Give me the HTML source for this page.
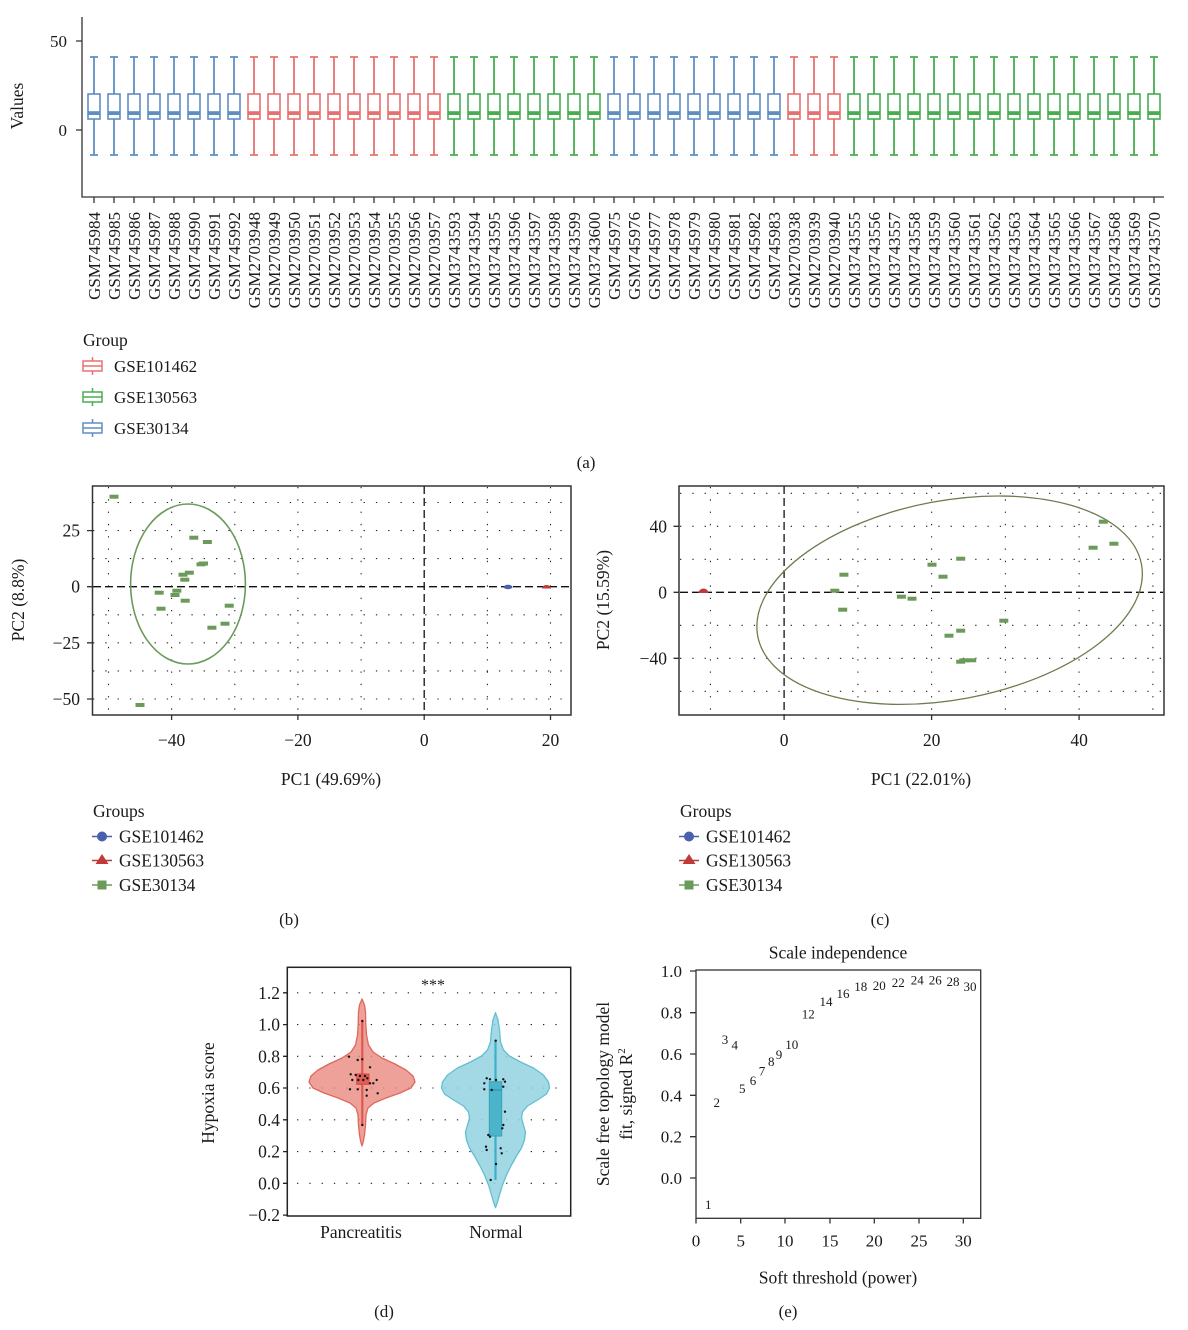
<!DOCTYPE html>
<html><head><meta charset="utf-8"><style>
html,body{margin:0;padding:0;background:#fff}
svg{display:block;font-family:"Liberation Serif",serif}
text{fill:#1a1a1a}
</style></head><body>
<svg width="1188" height="1330" viewBox="0 0 1188 1330" xmlns="http://www.w3.org/2000/svg">
<defs>
<g id="bx"><path d="M0 57V94M0 119V155M-4 57H4M-4 155H4" fill="none" stroke="currentColor" stroke-width="1.8"/><rect x="-6" y="94" width="12" height="25" fill="none" stroke="currentColor" stroke-width="1.6"/><rect x="-6" y="111.2" width="12" height="3.8" fill="currentColor"/></g>
</defs>

<!-- ========== Panel (a) ========== -->
<g>
<path d="M82 17V197H1164" fill="none" stroke="#333" stroke-width="1.3"/>
<path d="M76 41H82M76 130H82" stroke="#333" stroke-width="1.3"/>
<text x="67" y="47" font-size="17" text-anchor="end">50</text>
<text x="67" y="136" font-size="17" text-anchor="end">0</text>
<text transform="translate(23,106) rotate(-90)" font-size="17.5" text-anchor="middle">Values</text>
<g style="color:#5e8ec5">
<use href="#bx" x="94"/><use href="#bx" x="114"/><use href="#bx" x="134"/><use href="#bx" x="154"/><use href="#bx" x="174"/><use href="#bx" x="194"/><use href="#bx" x="214"/><use href="#bx" x="234"/>
<use href="#bx" x="614"/><use href="#bx" x="634"/><use href="#bx" x="654"/><use href="#bx" x="674"/><use href="#bx" x="694"/><use href="#bx" x="714"/><use href="#bx" x="734"/><use href="#bx" x="754"/><use href="#bx" x="774"/>
</g>
<g style="color:#e8706f">
<use href="#bx" x="254"/><use href="#bx" x="274"/><use href="#bx" x="294"/><use href="#bx" x="314"/><use href="#bx" x="334"/><use href="#bx" x="354"/><use href="#bx" x="374"/><use href="#bx" x="394"/><use href="#bx" x="414"/><use href="#bx" x="434"/>
<use href="#bx" x="794"/><use href="#bx" x="814"/><use href="#bx" x="834"/>
</g>
<g style="color:#46ad50">
<use href="#bx" x="454"/><use href="#bx" x="474"/><use href="#bx" x="494"/><use href="#bx" x="514"/><use href="#bx" x="534"/><use href="#bx" x="554"/><use href="#bx" x="574"/><use href="#bx" x="594"/>
<use href="#bx" x="854"/><use href="#bx" x="874"/><use href="#bx" x="894"/><use href="#bx" x="914"/><use href="#bx" x="934"/><use href="#bx" x="954"/><use href="#bx" x="974"/><use href="#bx" x="994"/><use href="#bx" x="1014"/><use href="#bx" x="1034"/><use href="#bx" x="1054"/><use href="#bx" x="1074"/><use href="#bx" x="1094"/><use href="#bx" x="1114"/><use href="#bx" x="1134"/><use href="#bx" x="1154"/>
</g>
<path stroke="#333" stroke-width="1.3" d="M94 197v6M114 197v6M134 197v6M154 197v6M174 197v6M194 197v6M214 197v6M234 197v6M254 197v6M274 197v6M294 197v6M314 197v6M334 197v6M354 197v6M374 197v6M394 197v6M414 197v6M434 197v6M454 197v6M474 197v6M494 197v6M514 197v6M534 197v6M554 197v6M574 197v6M594 197v6M614 197v6M634 197v6M654 197v6M674 197v6M694 197v6M714 197v6M734 197v6M754 197v6M774 197v6M794 197v6M814 197v6M834 197v6M854 197v6M874 197v6M894 197v6M914 197v6M934 197v6M954 197v6M974 197v6M994 197v6M1014 197v6M1034 197v6M1054 197v6M1074 197v6M1094 197v6M1114 197v6M1134 197v6M1154 197v6"/>
<g font-size="17" text-anchor="end">
<text transform="translate(100,212) rotate(-90)">GSM745984</text>
<text transform="translate(120,212) rotate(-90)">GSM745985</text>
<text transform="translate(140,212) rotate(-90)">GSM745986</text>
<text transform="translate(160,212) rotate(-90)">GSM745987</text>
<text transform="translate(180,212) rotate(-90)">GSM745988</text>
<text transform="translate(200,212) rotate(-90)">GSM745990</text>
<text transform="translate(220,212) rotate(-90)">GSM745991</text>
<text transform="translate(240,212) rotate(-90)">GSM745992</text>
<text transform="translate(260,212) rotate(-90)">GSM2703948</text>
<text transform="translate(280,212) rotate(-90)">GSM2703949</text>
<text transform="translate(300,212) rotate(-90)">GSM2703950</text>
<text transform="translate(320,212) rotate(-90)">GSM2703951</text>
<text transform="translate(340,212) rotate(-90)">GSM2703952</text>
<text transform="translate(360,212) rotate(-90)">GSM2703953</text>
<text transform="translate(380,212) rotate(-90)">GSM2703954</text>
<text transform="translate(400,212) rotate(-90)">GSM2703955</text>
<text transform="translate(420,212) rotate(-90)">GSM2703956</text>
<text transform="translate(440,212) rotate(-90)">GSM2703957</text>
<text transform="translate(460,212) rotate(-90)">GSM3743593</text>
<text transform="translate(480,212) rotate(-90)">GSM3743594</text>
<text transform="translate(500,212) rotate(-90)">GSM3743595</text>
<text transform="translate(520,212) rotate(-90)">GSM3743596</text>
<text transform="translate(540,212) rotate(-90)">GSM3743597</text>
<text transform="translate(560,212) rotate(-90)">GSM3743598</text>
<text transform="translate(580,212) rotate(-90)">GSM3743599</text>
<text transform="translate(600,212) rotate(-90)">GSM3743600</text>
<text transform="translate(620,212) rotate(-90)">GSM745975</text>
<text transform="translate(640,212) rotate(-90)">GSM745976</text>
<text transform="translate(660,212) rotate(-90)">GSM745977</text>
<text transform="translate(680,212) rotate(-90)">GSM745978</text>
<text transform="translate(700,212) rotate(-90)">GSM745979</text>
<text transform="translate(720,212) rotate(-90)">GSM745980</text>
<text transform="translate(740,212) rotate(-90)">GSM745981</text>
<text transform="translate(760,212) rotate(-90)">GSM745982</text>
<text transform="translate(780,212) rotate(-90)">GSM745983</text>
<text transform="translate(800,212) rotate(-90)">GSM2703938</text>
<text transform="translate(820,212) rotate(-90)">GSM2703939</text>
<text transform="translate(840,212) rotate(-90)">GSM2703940</text>
<text transform="translate(860,212) rotate(-90)">GSM3743555</text>
<text transform="translate(880,212) rotate(-90)">GSM3743556</text>
<text transform="translate(900,212) rotate(-90)">GSM3743557</text>
<text transform="translate(920,212) rotate(-90)">GSM3743558</text>
<text transform="translate(940,212) rotate(-90)">GSM3743559</text>
<text transform="translate(960,212) rotate(-90)">GSM3743560</text>
<text transform="translate(980,212) rotate(-90)">GSM3743561</text>
<text transform="translate(1000,212) rotate(-90)">GSM3743562</text>
<text transform="translate(1020,212) rotate(-90)">GSM3743563</text>
<text transform="translate(1040,212) rotate(-90)">GSM3743564</text>
<text transform="translate(1060,212) rotate(-90)">GSM3743565</text>
<text transform="translate(1080,212) rotate(-90)">GSM3743566</text>
<text transform="translate(1100,212) rotate(-90)">GSM3743567</text>
<text transform="translate(1120,212) rotate(-90)">GSM3743568</text>
<text transform="translate(1140,212) rotate(-90)">GSM3743569</text>
<text transform="translate(1160,212) rotate(-90)">GSM3743570</text>
</g>
<!-- legend -->
<text x="83" y="346" font-size="17.5">Group</text>
<g fill="none" stroke-width="1.5">
<g stroke="#e8706f"><rect x="83" y="361" width="19" height="10"/><path d="M83 366H102M92.5 357V361M92.5 371V375"/></g>
<g stroke="#46ad50"><rect x="83" y="392" width="19" height="10"/><path d="M83 397H102M92.5 388V392M92.5 402V406"/></g>
<g stroke="#5e8ec5"><rect x="83" y="423" width="19" height="10"/><path d="M83 428H102M92.5 419V423M92.5 433V437"/></g>
</g>
<text x="114" y="372" font-size="17">GSE101462</text>
<text x="114" y="403" font-size="17">GSE130563</text>
<text x="114" y="434" font-size="17">GSE30134</text>
<text x="586" y="468" font-size="17" text-anchor="middle">(a)</text>
</g>

<!-- ========== Panel (b) ========== -->
<g>
<g stroke="#222" stroke-width="1.1" stroke-dasharray="1.3,11" fill="none">
<path d="M108.5 487V714M171.6 487V714M234.8 487V714M297.9 487V714M361.1 487V714M487.4 487V714M550.5 487V714"/>
<path d="M93 502.5H570M93 530.6H570M93 558.6H570M93 614.8H570M93 642.8H570M93 670.9H570M93 699H570"/>
</g>
<path d="M93 586.7H570M424.2 486V715" stroke="#111" stroke-width="1.3" stroke-dasharray="8,4" fill="none"/>
<ellipse cx="188" cy="584" rx="57.4" ry="80" fill="none" stroke="#6b9a5b" stroke-width="1.6"/>
<g fill="#6b9a5b">
<rect x="109.5" y="494.7" width="9" height="4"/>
<rect x="189.3" y="535.7" width="9" height="4"/>
<rect x="202.9" y="540" width="9" height="4"/>
<rect x="196.5" y="562.3" width="9" height="4"/>
<rect x="199" y="561.5" width="9" height="4"/>
<rect x="178.5" y="572.7" width="9" height="4"/>
<rect x="184.8" y="570.7" width="9" height="4"/>
<rect x="180.3" y="577.7" width="9" height="4"/>
<rect x="154.7" y="590.7" width="9" height="4"/>
<rect x="172.4" y="588.7" width="9" height="4"/>
<rect x="170.5" y="593" width="9" height="4"/>
<rect x="180.7" y="598.7" width="9" height="4"/>
<rect x="156.5" y="606.7" width="9" height="4"/>
<rect x="224.7" y="603.7" width="9" height="4"/>
<rect x="207.4" y="625.7" width="9" height="4"/>
<rect x="220.5" y="621.7" width="9" height="4"/>
<rect x="135.5" y="703" width="9" height="4"/>
</g>
<ellipse cx="508" cy="587" rx="4.5" ry="2.2" fill="#4a5fae"/>
<path d="M542 588.5A4.5 3.5 0 0 1 551 588.5Z" fill="#c0393b"/>
<rect x="92.5" y="486" width="478.5" height="229" fill="none" stroke="#333" stroke-width="1.5"/>
<path d="M87 530.6H92.5M87 586.7H92.5M87 642.8H92.5M87 699H92.5M171.6 715V720M297.9 715V720M424.2 715V720M550.5 715V720" stroke="#333" stroke-width="1.3"/>
<g font-size="17.5" text-anchor="end">
<text x="80" y="536.6">25</text><text x="80" y="592.7">0</text><text x="80" y="648.8">−25</text><text x="80" y="705">−50</text>
</g>
<g font-size="17.5" text-anchor="middle">
<text x="171.6" y="746">−40</text><text x="297.9" y="746">−20</text><text x="424.2" y="746">0</text><text x="550.5" y="746">20</text>
<text x="331" y="785">PC1 (49.69%)</text>
</g>
<text transform="translate(24,600) rotate(-90)" font-size="17.5" text-anchor="middle">PC2 (8.8%)</text>
<text x="93" y="817" font-size="17.5">Groups</text>
<path d="M92 836.5H112" stroke="#4a5fae" stroke-width="1.5"/><circle cx="102" cy="836.5" r="5" fill="#4a5fae"/>
<path d="M92 860.5H112" stroke="#c0393b" stroke-width="1.5"/><path d="M102 854L108.5 864H95.5Z" fill="#c0393b"/>
<path d="M92 885H112" stroke="#6b9a5b" stroke-width="1.5"/><rect x="97.5" y="880.5" width="9" height="9" fill="#6b9a5b"/>
<text x="119" y="842.5" font-size="17.4">GSE101462</text>
<text x="119" y="866.5" font-size="17.4">GSE130563</text>
<text x="119" y="891" font-size="17.4">GSE30134</text>
<text x="289" y="925" font-size="17" text-anchor="middle">(b)</text>
</g>

<!-- ========== Panel (c) ========== -->
<g>
<g stroke="#222" stroke-width="1.1" stroke-dasharray="1.3,11" fill="none">
<path d="M710.4 487V714M857.9 487V714M931.6 487V714M1005.4 487V714M1079.1 487V714M1152.9 487V714"/>
<path d="M680 493.3H1163M680 526.3H1163M680 559.3H1163M680 625.3H1163M680 658.3H1163M680 691.3H1163"/>
</g>
<path d="M680 592.3H1163M784.1 486V715" stroke="#111" stroke-width="1.3" stroke-dasharray="8,4" fill="none"/>
<ellipse cx="949.6" cy="600.2" rx="195.2" ry="99.5" transform="rotate(-10.6 949.6 600.2)" fill="none" stroke="#6b7d50" stroke-width="1.3"/>
<g fill="#6b9a5b">
<rect x="830.3" y="588.7" width="9" height="4"/>
<rect x="839.4" y="572.7" width="9" height="4"/>
<rect x="838.2" y="607.7" width="9" height="4"/>
<rect x="896.9" y="594.7" width="9" height="4"/>
<rect x="907.5" y="596.7" width="9" height="4"/>
<rect x="927.5" y="562.7" width="9" height="4"/>
<rect x="938.5" y="574.7" width="9" height="4"/>
<rect x="956.2" y="556.7" width="9" height="4"/>
<rect x="944.5" y="633.7" width="9" height="4"/>
<rect x="956.2" y="628.7" width="9" height="4"/>
<rect x="956.2" y="659.7" width="9" height="4"/>
<rect x="959.3" y="658.3" width="9" height="4"/>
<rect x="967.2" y="658.3" width="9" height="4"/>
<rect x="999.3" y="618.7" width="9" height="4"/>
<rect x="1088.6" y="545.7" width="9" height="4"/>
<rect x="1098.8" y="519.7" width="9" height="4"/>
<rect x="1109.4" y="541.7" width="9" height="4"/>
</g>
<path d="M698.5 593A5 4.5 0 0 1 708.5 593Z" fill="#c0393b"/>
<rect x="679" y="486" width="485" height="229" fill="none" stroke="#333" stroke-width="1.5"/>
<path d="M673.5 526.3H679M673.5 592.3H679M673.5 658.3H679M784.1 715V720M931.6 715V720M1079.1 715V720" stroke="#333" stroke-width="1.3"/>
<g font-size="17.5" text-anchor="end">
<text x="667" y="532.3">40</text><text x="667" y="598.3">0</text><text x="667" y="664.3">−40</text>
</g>
<g font-size="17.5" text-anchor="middle">
<text x="784.1" y="746">0</text><text x="931.6" y="746">20</text><text x="1079.1" y="746">40</text>
<text x="921" y="785">PC1 (22.01%)</text>
</g>
<text transform="translate(609,600) rotate(-90)" font-size="17.5" text-anchor="middle">PC2 (15.59%)</text>
<text x="680" y="817" font-size="17.5">Groups</text>
<path d="M679 836.5H699" stroke="#4a5fae" stroke-width="1.5"/><circle cx="689" cy="836.5" r="5" fill="#4a5fae"/>
<path d="M679 860.5H699" stroke="#c0393b" stroke-width="1.5"/><path d="M689 854L695.5 864H682.5Z" fill="#c0393b"/>
<path d="M679 885H699" stroke="#6b9a5b" stroke-width="1.5"/><rect x="684.5" y="880.5" width="9" height="9" fill="#6b9a5b"/>
<text x="706" y="842.5" font-size="17.4">GSE101462</text>
<text x="706" y="866.5" font-size="17.4">GSE130563</text>
<text x="706" y="891" font-size="17.4">GSE30134</text>
<text x="880" y="925" font-size="17" text-anchor="middle">(c)</text>
</g>

<!-- ========== Panel (d) ========== -->
<g>
<g stroke="#222" stroke-width="1.1" stroke-dasharray="1.3,11" fill="none">
<path d="M297 992.8H566M297 1024.6H566M297 1056.3H566M297 1088H566M297 1119.8H566M297 1151.6H566M297 1183.3H566"/>
</g>
<polygon fill="#e98a80" fill-opacity="0.8" stroke="#e0675d" stroke-width="1.3" stroke-linejoin="round" points="362,999 359.5,1005 358.5,1012 358.2,1024 357.5,1035 355.5,1045 351,1052 342,1058 329,1064 318,1070 311,1076 309,1082 313,1088 324,1093 338,1098 350,1103 356,1108 358,1115 358.5,1125 359.5,1135 360.8,1142 362,1146 363.2,1142 364.5,1135 365.5,1125 366,1115 368,1108 374,1103 386,1098 400,1093 411,1088 415,1082 413,1076 406,1070 395,1064 382,1058 373,1052 368.5,1045 366.5,1035 365.8,1024 365.5,1012 364.5,1005"/>
<polygon fill="#93d2df" fill-opacity="0.85" stroke="#62bfd2" stroke-width="1.3" stroke-linejoin="round" points="495.5,1012.7 493,1020 491.5,1030 490.5,1042 487.5,1050 481.5,1056 470.5,1062 457.5,1068 447.5,1075 442.5,1082 441.5,1088 444.5,1094 453.5,1100 463.5,1106 468.5,1112 469.5,1118 467.5,1125 465.5,1132 466.5,1140 469.5,1148 474.5,1156 479.5,1165 484.5,1175 488.5,1185 491.5,1195 493.5,1202 495.5,1207.7 497.5,1202 499.5,1195 502.5,1185 506.5,1175 511.5,1165 516.5,1156 521.5,1148 524.5,1140 525.5,1132 523.5,1125 521.5,1118 522.5,1112 527.5,1106 537.5,1100 546.5,1094 549.5,1088 548.5,1082 543.5,1075 533.5,1068 520.5,1062 509.5,1056 503.5,1050 500.5,1042 499.5,1030 498,1020"/>
<path d="M362.3 1021V1125" stroke="#e0574f" stroke-width="2.2"/>
<rect x="356.7" y="1074" width="12.3" height="10.3" fill="#df5f57" stroke="#d4463f" stroke-width="1"/>
<path d="M495.5 1040V1180" stroke="#3cb0c8" stroke-width="2.2"/>
<rect x="489.3" y="1081.7" width="12.4" height="54.3" fill="#4bb4cb" stroke="#34a4bd" stroke-width="1"/>
<path d="M489.3 1090H501.7" stroke="#2a95ad" stroke-width="1.2"/>
<g fill="#111">
<circle cx="349" cy="1056.7" r="1.2"/><circle cx="357.7" cy="1060" r="1.2"/><circle cx="362.3" cy="1059.3" r="1.2"/><circle cx="370" cy="1067.3" r="1.2"/><circle cx="350.7" cy="1074.3" r="1.2"/><circle cx="355.7" cy="1075" r="1.2"/><circle cx="360" cy="1076" r="1.2"/><circle cx="365" cy="1076" r="1.2"/><circle cx="352.3" cy="1080" r="1.2"/><circle cx="358.3" cy="1080" r="1.2"/><circle cx="363.3" cy="1080" r="1.2"/><circle cx="367.3" cy="1078.3" r="1.2"/><circle cx="376.7" cy="1080" r="1.2"/><circle cx="370" cy="1083.3" r="1.2"/><circle cx="373.3" cy="1083.3" r="1.2"/><circle cx="350" cy="1089.3" r="1.2"/><circle cx="357.7" cy="1089.3" r="1.2"/><circle cx="366.7" cy="1090" r="1.2"/><circle cx="366.7" cy="1095.7" r="1.2"/><circle cx="377.7" cy="1093.3" r="1.2"/><circle cx="362.3" cy="1021" r="1.2"/><circle cx="362.3" cy="1125" r="1.2"/>
<circle cx="484.3" cy="1083.3" r="1.2"/><circle cx="486.7" cy="1078.3" r="1.2"/><circle cx="490" cy="1079.3" r="1.2"/><circle cx="496" cy="1080" r="1.2"/><circle cx="503.3" cy="1079.3" r="1.2"/><circle cx="505" cy="1081.7" r="1.2"/><circle cx="484.3" cy="1089.3" r="1.2"/><circle cx="491.7" cy="1090" r="1.2"/><circle cx="503.3" cy="1086.7" r="1.2"/><circle cx="505" cy="1111.7" r="1.2"/><circle cx="503.3" cy="1125" r="1.2"/><circle cx="502.3" cy="1128.3" r="1.2"/><circle cx="488.3" cy="1135" r="1.2"/><circle cx="490" cy="1136.7" r="1.2"/><circle cx="486" cy="1146.7" r="1.2"/><circle cx="486.7" cy="1150" r="1.2"/><circle cx="500.7" cy="1148.3" r="1.2"/><circle cx="501.7" cy="1153.3" r="1.2"/><circle cx="496" cy="1164" r="1.2"/><circle cx="490.7" cy="1180" r="1.2"/><circle cx="495.7" cy="1040.7" r="1.2"/>
</g>
<rect x="287.3" y="967.3" width="283.4" height="248.7" fill="none" stroke="#222" stroke-width="1.5"/>
<path d="M283 992.8H287.3M283 1024.6H287.3M283 1056.3H287.3M283 1088H287.3M283 1119.8H287.3M283 1151.6H287.3M283 1183.3H287.3M283 1215.1H287.3" stroke="#222" stroke-width="1.3"/>
<g font-size="17.5" text-anchor="end">
<text x="280" y="998.8">1.2</text><text x="280" y="1030.6">1.0</text><text x="280" y="1062.3">0.8</text><text x="280" y="1094">0.6</text><text x="280" y="1125.8">0.4</text><text x="280" y="1157.6">0.2</text><text x="280" y="1189.3">0.0</text><text x="280" y="1221.1">−0.2</text>
</g>
<text x="433" y="990" font-size="16" text-anchor="middle">***</text>
<text x="361" y="1238" font-size="17.5" text-anchor="middle">Pancreatitis</text>
<text x="496" y="1238" font-size="17.5" text-anchor="middle">Normal</text>
<text transform="translate(214,1093) rotate(-90)" font-size="17.5" text-anchor="middle">Hypoxia score</text>
<text x="384" y="1317" font-size="17" text-anchor="middle">(d)</text>
</g>

<!-- ========== Panel (e) ========== -->
<g>
<text x="838" y="958.5" font-size="17.5" text-anchor="middle">Scale independence</text>
<rect x="696" y="970" width="284.7" height="248.3" fill="none" stroke="#333" stroke-width="1.3"/>
<path d="M690 971H696M690 1012.7H696M690 1054H696M690 1095.3H696M690 1136.7H696M690 1178H696" stroke="#333" stroke-width="1.3"/>
<path d="M696 1218.3V1223.5M740.7 1218.3V1223.5M785 1218.3V1223.5M830 1218.3V1223.5M874.3 1218.3V1223.5M919 1218.3V1223.5M963.3 1218.3V1223.5" stroke="#333" stroke-width="1.3"/>
<g font-size="17" text-anchor="end">
<text x="682" y="977">1.0</text><text x="682" y="1018.7">0.8</text><text x="682" y="1060">0.6</text><text x="682" y="1101.3">0.4</text><text x="682" y="1142.7">0.2</text><text x="682" y="1184">0.0</text>
</g>
<g font-size="17" text-anchor="middle">
<text x="696" y="1246.7">0</text><text x="740.7" y="1246.7">5</text><text x="785" y="1246.7">10</text><text x="830" y="1246.7">15</text><text x="874.3" y="1246.7">20</text><text x="919" y="1246.7">25</text><text x="963.3" y="1246.7">30</text>
</g>
<text x="838" y="1283.5" font-size="17.5" text-anchor="middle">Soft threshold (power)</text>
<text transform="translate(609,1094) rotate(-90)" font-size="17.5" text-anchor="middle">Scale free topology model</text>
<text transform="translate(632,1094) rotate(-90)" font-size="17.5" text-anchor="middle">fit, signed R<tspan font-size="11" dy="-7">2</tspan></text>
<g font-size="13" text-anchor="middle">
<text x="708.3" y="1208.8">1</text>
<text x="716.7" y="1107.2">2</text>
<text x="725" y="1043.8">3</text>
<text x="734.7" y="1049.5">4</text>
<text x="742.3" y="1093.2">5</text>
<text x="753" y="1085.2">6</text>
<text x="762" y="1075.5">7</text>
<text x="771.3" y="1066.2">8</text>
<text x="779" y="1058.8">9</text>
<text x="791.7" y="1048.8">10</text>
<text x="808.3" y="1018.5">12</text>
<text x="826" y="1006.2">14</text>
<text x="843" y="997.8">16</text>
<text x="860.7" y="991.2">18</text>
<text x="879.3" y="990.2">20</text>
<text x="898.3" y="986.8">22</text>
<text x="917.3" y="984.5">24</text>
<text x="935.3" y="984.5">26</text>
<text x="953" y="986.2">28</text>
<text x="970" y="991.2">30</text>
</g>
<text x="788" y="1317" font-size="17" text-anchor="middle">(e)</text>
</g>
</svg>
</body></html>
